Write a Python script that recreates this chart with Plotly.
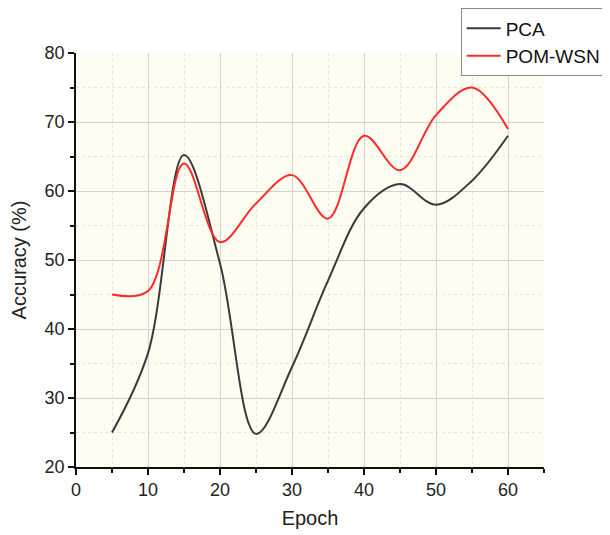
import plotly.graph_objects as go

epochs = [5, 10, 15, 20, 25, 30, 35, 40, 45, 50, 55, 60]
pca = [25, 36.5, 65.2, 49.5, 24.8, 34.5, 47, 57.5, 61, 58, 61.5, 68]
pom_wsn = [45, 45.5, 64, 52.6, 58.2, 62.3, 56, 68, 63, 71, 75, 69]

x_ticks = [0, 10, 20, 30, 40, 50, 60]
y_ticks = [20, 30, 40, 50, 60, 70, 80]

FONT = "Liberation Sans, Arial"

fig = go.Figure()
fig.add_trace(go.Scatter(x=epochs, y=pca, name="PCA", mode="lines",
                         line=dict(color="#3a3a3a", width=2, shape="spline", smoothing=1.0)))
fig.add_trace(go.Scatter(x=epochs, y=pom_wsn, name="POM-WSN", mode="lines",
                         line=dict(color="#ff2a2a", width=2, shape="spline", smoothing=1.0)))

axis_common = dict(
    showline=True, linecolor="#111111", linewidth=1.5,
    ticks="outside", ticklen=6, tickwidth=1.5, tickcolor="#111111",
    showgrid=True, gridcolor="#d2d2d2", gridwidth=1,
    zeroline=False, mirror=False,
    tickfont=dict(family=FONT, size=18, color="#222222"),
    title_font=dict(family=FONT, size=20, color="#222222"),
)

minor = dict(dtick=5, ticks="outside", ticklen=4, tickwidth=1.5, tickcolor="#111111",
             showgrid=True, gridcolor="#e4e4e4", griddash="dot")

fig.update_xaxes(range=[0, 65], tickvals=x_ticks, title_text="Epoch", title_standoff=12,
                 minor=minor, **axis_common)
fig.update_yaxes(range=[20, 80], tickvals=y_ticks, title_text="Accuracy (%)", title_standoff=14,
                 minor=minor, **axis_common)

fig.update_layout(
    width=602, height=527,
    margin=dict(l=68, r=66, t=45, b=68, autoexpand=False),
    paper_bgcolor="white", plot_bgcolor="#fdfdf1",
    legend=dict(x=0.822, y=1.108, xanchor="left", yanchor="top",
                bgcolor="white", bordercolor="#8a8a8a", borderwidth=1,
                font=dict(family=FONT, size=19, color="#111111"),
                itemwidth=34, tracegroupgap=0),
    showlegend=True,
)

fig.write_html("out.html")
